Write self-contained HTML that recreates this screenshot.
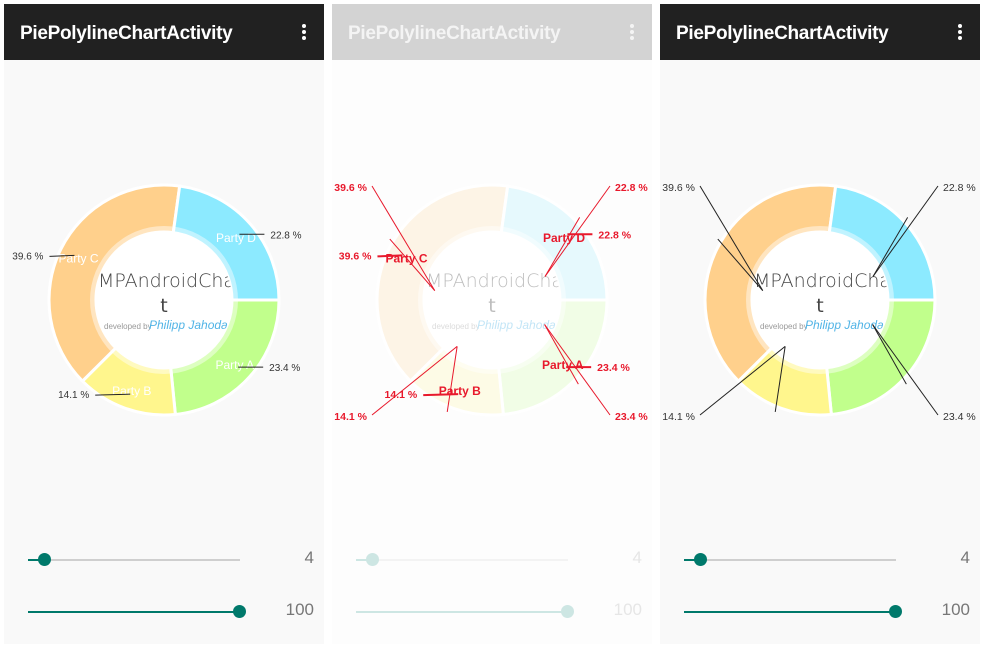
<!DOCTYPE html>
<html><head><meta charset="utf-8">
<style>
html,body{margin:0;padding:0;background:#fff;width:984px;height:648px;overflow:hidden;font-family:"Liberation Sans",sans-serif}
.panel{position:absolute;top:4px;width:320px;height:640px;background:#f9f9f9}
.hdr{position:absolute;left:0;top:0;width:320px;height:56px;background:#212121;color:#fff}
.hdr .t{position:absolute;left:16px;top:19px;font-size:19px;font-weight:bold;letter-spacing:-0.3px}
.hdr .m{position:absolute;right:18px;top:20px;width:4px}
.hdr .m i{display:block;width:4px;height:4px;border-radius:2px;background:#fff;margin-bottom:2px}
.track{position:absolute;height:2px;background:#cfcfcf}
.fill{position:absolute;height:2px;background:#00796b}
.thumb{position:absolute;width:13px;height:13px;border-radius:50%;background:#00796b}
.val{position:absolute;font-size:17px;color:#777;text-align:right;width:60px}
#chart{position:absolute;left:0;top:0}
</style></head>
<body>
<div class="panel" style="left:4px">
 <div class="hdr"><div class="t">PiePolylineChartActivity</div><div class="m"><i></i><i></i><i></i></div></div>
 <div class="track" style="left:24px;top:555px;width:212px"></div>
 <div class="fill" style="left:24px;top:555px;width:17px"></div>
 <div class="thumb" style="left:34px;top:549px"></div>
 <div class="val" style="left:250px;top:544px">4</div>
 <div class="fill" style="left:24px;top:607px;width:212px"></div>
 <div class="thumb" style="left:229px;top:601px"></div>
 <div class="val" style="left:250px;top:596px">100</div>
</div>
<div class="panel" style="left:332px;background:#fdfdfd">
 <div class="hdr" style="background:#d3d3d3;color:#f4f4f4"><div class="t">PiePolylineChartActivity</div><div class="m"><i style="background:#f4f4f4"></i><i style="background:#f4f4f4"></i><i style="background:#f4f4f4"></i></div></div>
 <div class="track" style="left:24px;top:555px;width:212px;background:#f3f3f3"></div>
 <div class="fill" style="left:24px;top:555px;width:17px;background:#cde6e3"></div>
 <div class="thumb" style="left:34px;top:549px;background:#cde6e3"></div>
 <div class="val" style="left:250px;top:544px;color:#e6e6e6">4</div>
 <div class="fill" style="left:24px;top:607px;width:212px;background:#cde6e3"></div>
 <div class="thumb" style="left:229px;top:601px;background:#cde6e3"></div>
 <div class="val" style="left:250px;top:596px;color:#e6e6e6">100</div>
</div>
<div class="panel" style="left:660px">
 <div class="hdr"><div class="t">PiePolylineChartActivity</div><div class="m"><i></i><i></i><i></i></div></div>
 <div class="track" style="left:24px;top:555px;width:212px"></div>
 <div class="fill" style="left:24px;top:555px;width:17px"></div>
 <div class="thumb" style="left:34px;top:549px"></div>
 <div class="val" style="left:250px;top:544px">4</div>
 <div class="fill" style="left:24px;top:607px;width:212px"></div>
 <div class="thumb" style="left:229px;top:601px"></div>
 <div class="val" style="left:250px;top:596px">100</div>
</div>
<svg id="chart" width="984" height="648" xmlns="http://www.w3.org/2000/svg"></svg>
<script>
const categories = ["Party A","Party B","Party C","Party D"];
const values = [23.4, 14.1, 39.6, 22.8];
const colors = ["#c1ff8c","#fff68d","#ffd08c","#8ceaff"];
const centers = [164, 492, 820];
const CY = 300, R = 115, RH = 68, RT = 74;
const NS = "http://www.w3.org/2000/svg";
const svg = document.getElementById("chart");
function mk(tag, attrs, parent){const e=document.createElementNS(NS,tag);for(const k in attrs)e.setAttribute(k,attrs[k]);(parent||svg).appendChild(e);return e;}
const total = values.reduce((a,b)=>a+b,0);
function angOf(v){return v/total*2*Math.PI;}
function pt(cx,r,a){return [cx+r*Math.cos(a), CY+r*Math.sin(a)];}
function fmt(v){return v.toFixed(1)+" %";}

centers.forEach((cx,pi)=>{
  const faded = pi===1;
  const g = mk("g",{});
  
  
  let a0 = 0;
  const mids = [];
  values.forEach((v,i)=>{
    const a1 = a0 + angOf(v);
    const p0=pt(cx,R,a0),p1=pt(cx,R,a1),q1=pt(cx,RH,a1),q0=pt(cx,RH,a0);
    const lg = (a1-a0)>Math.PI?1:0;
    const d=`M${p0}A${R},${R} 0 ${lg} 1 ${p1}L${q1}A${RH},${RH} 0 ${lg} 0 ${q0}Z`;
    const s = mk("path",{d:d,fill:colors[i],"fill-opacity":faded?0.2:1,stroke:"#fff","stroke-width":3},g);
    
    
    mids.push((a0+a1)/2);
    a0 = a1;
  });
  const hole = mk("circle",{cx:cx,cy:CY,r:RT,fill:"#fff","fill-opacity":0.45},g);
  
  
  const hole2 = mk("circle",{cx:cx,cy:CY,r:RH,fill:"#fff"},g);
  
  
  const clip = mk("clipPath",{id:"clip"+pi},g);
  mk("circle",{cx:cx,cy:CY,r:RH},clip);
  const tg = mk("g",{"clip-path":`url(#clip${pi})`,opacity:faded?0.35:1},g);
  const t1 = mk("text",{x:cx-66,y:287,"font-size":19,fill:"#444","font-family":"DejaVu Sans, sans-serif","font-weight":"200"},tg);
  t1.textContent="MPAndroidChart";
  
  
  const t2 = mk("text",{x:cx,y:312,"font-size":19,fill:"#444","text-anchor":"middle","font-family":"DejaVu Sans, sans-serif"},tg);
  t2.textContent="t";
  const t3 = mk("text",{x:cx-60,y:329,"font-size":8,fill:"#999"},tg);
  t3.textContent="developed by";
  
  
  const t4 = mk("text",{x:cx-15,y:329,"font-size":12,fill:"#51b4e6","font-style":"italic"},tg);
  t4.textContent="Philipp Jahoda";

  const lineCol = faded ? "#e8192c" : "#222";
  if(pi<2){
    values.forEach((v,i)=>{
      const m=mids[i];
      const lp=pt(cx,(R+RH)/2+4,m);
      const lt=mk("text",{x:lp[0],y:lp[1]+5,"font-size":12,fill:faded?"#e8192c":"#fff","text-anchor":"middle","font-weight":faded?"bold":"normal"},g);
      lt.textContent=categories[i];
      
      
      const s=pt(cx,R*0.87,m);
      const right=Math.cos(m)>0;
      const ex = s[0]+(right?25:-25)+(i===1?-10:0);
      const pl=mk("polyline",{points:`${s} ${ex},${s[1]+(right?0:1)}`,fill:"none",stroke:lineCol,"stroke-width":faded?2:1},g);
      
      
      const vt=mk("text",{x:ex+(right?6:-6),y:s[1]+4,"font-size":faded?10.5:10,fill:faded?"#e8192c":"#333","text-anchor":right?"start":"end","font-weight":faded?"bold":"normal"},g);
      vt.textContent=fmt(v);
      
      
    });
  }
  if(pi>0){
    values.forEach((v,i)=>{
      const m=mids[i];
      const right=Math.cos(m)>0, down=Math.sin(m)>0;
      const s=pt(cx,RH-10,m+(right?0.3:-0.3)*(down?-1:1));
      const ex = right? cx+118 : cx-120;
      const ey = down? 415 : 186;
      const pl=mk("line",{x1:s[0],y1:s[1],x2:ex,y2:ey,stroke:lineCol,"stroke-width":1},g);
      
      
      const s2=pt(cx,R-12,m);
      const l2=mk("line",{x1:s[0],y1:s[1],x2:s2[0]+(right?10:-10),y2:s2[1]+(down?15:-15),stroke:lineCol,"stroke-width":1},g);
      
      
      const vt=mk("text",{x:right?ex+5:ex-5,y:ey+5,"font-size":10.5,fill:faded?"#e8192c":"#333","text-anchor":right?"start":"end","font-weight":faded?"bold":"normal"},g);
      vt.textContent=fmt(v);
      
      
    });
  }
});
</script>
</body></html>
